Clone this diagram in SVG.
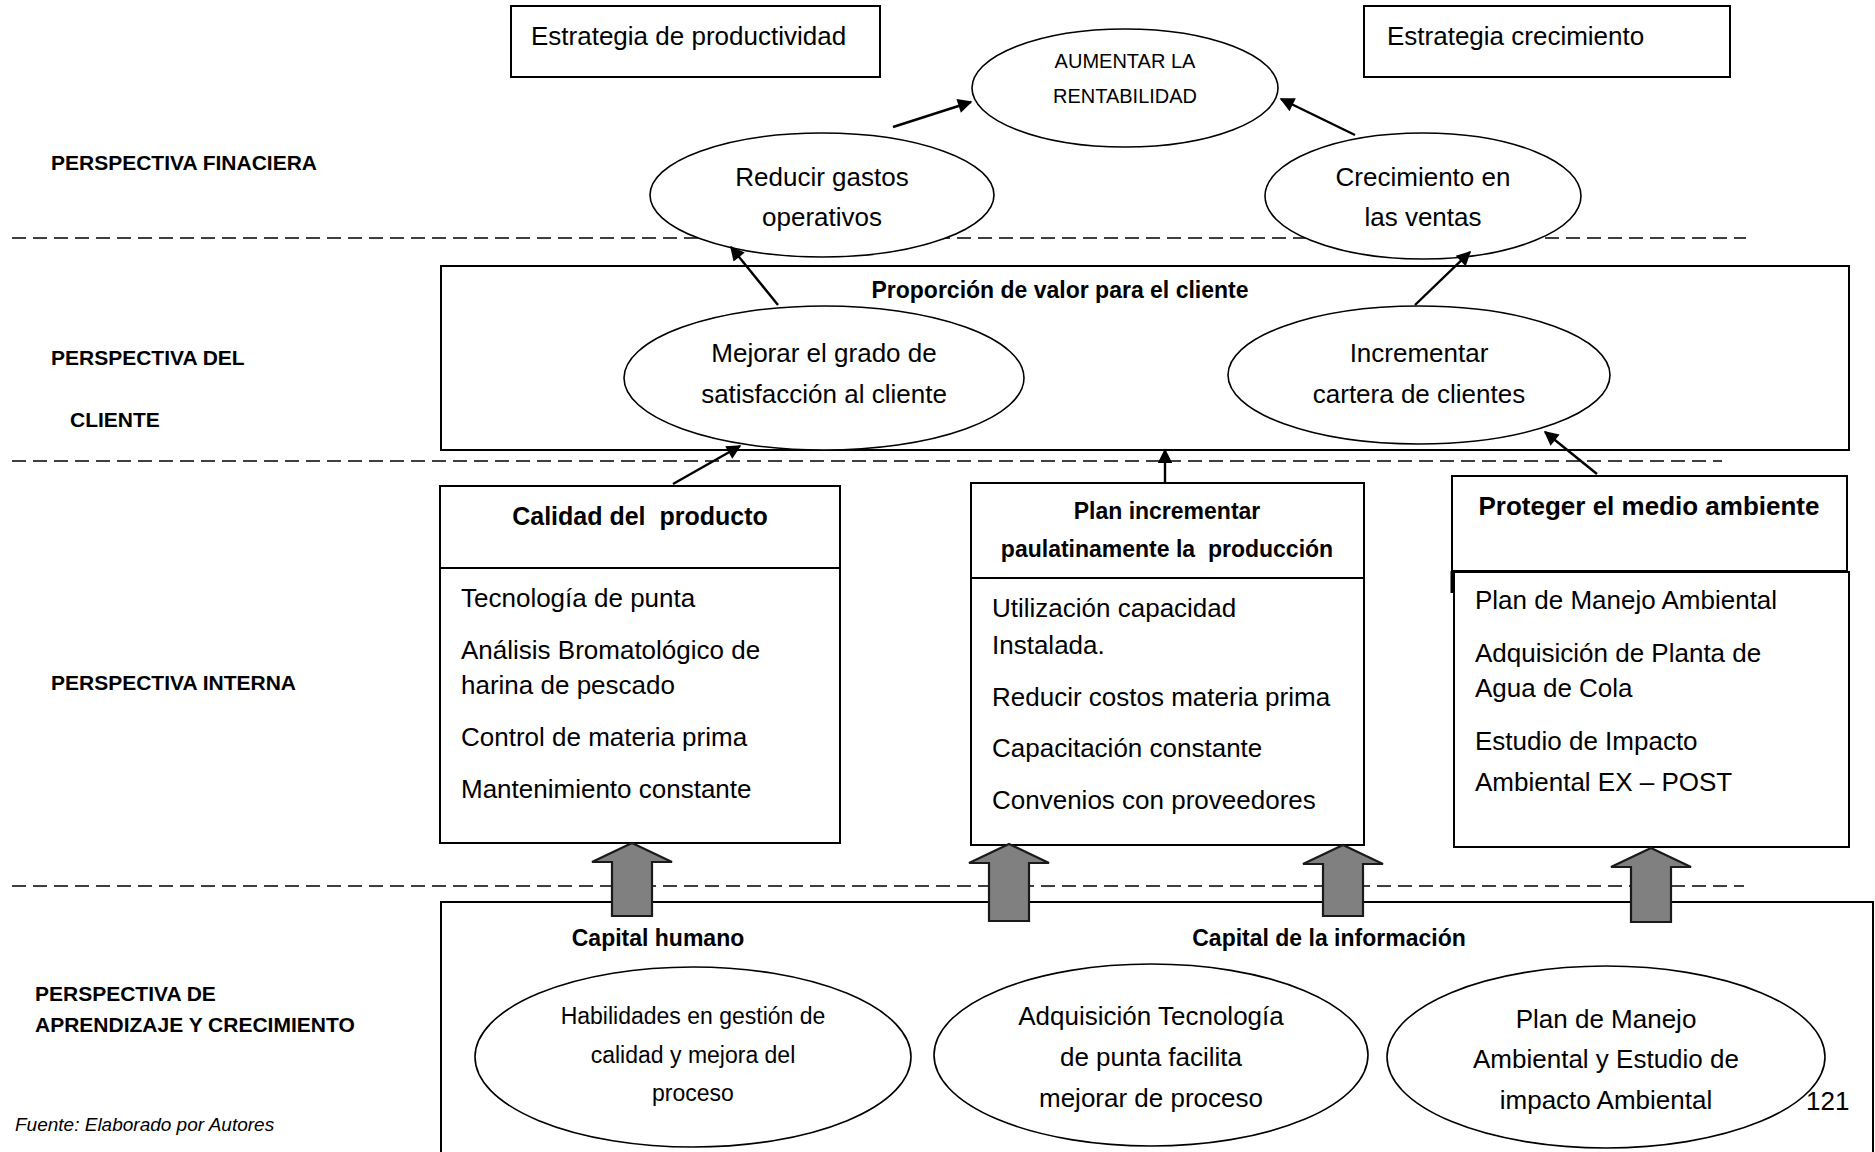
<svg xmlns="http://www.w3.org/2000/svg" width="1875" height="1152" viewBox="0 0 1875 1152">
<style>
text{font-family:"Liberation Sans",Arial,sans-serif;fill:#000}
.t{font-size:26px}
.s{font-size:23px}
.a{font-size:20px}
.b{font-weight:bold}
.lab{font-size:21px;font-weight:bold}
.c{text-anchor:middle}
.box{fill:#fff;stroke:#000;stroke-width:2}
.ell{fill:#fff;stroke:#000;stroke-width:1.6}
.dash{stroke:#000;stroke-width:1.6;stroke-dasharray:14 7;fill:none}
.ln{stroke:#000;stroke-width:2.4;fill:none}
.blk{fill:#808080;stroke:#1a1a1a;stroke-width:2.2;stroke-linejoin:miter}
</style>
<defs>
<marker id="ah" viewBox="0 0 10 10" refX="9" refY="5" markerWidth="7" markerHeight="6" markerUnits="strokeWidth" orient="auto">
<path d="M0,0 L10,5 L0,10 Z" fill="#000"/>
</marker>
</defs>

<g id="dashed-lines">
<line class="dash" x1="12" y1="238" x2="1746" y2="238"/>
<line class="dash" x1="12" y1="461" x2="1722" y2="461"/>
<line class="dash" x1="12" y1="886" x2="1744" y2="886"/>
</g>

<g id="labels">
<text class="lab" x="51" y="170">PERSPECTIVA FINACIERA</text>
<text class="lab" x="51" y="365">PERSPECTIVA DEL</text>
<text class="lab" x="70" y="427">CLIENTE</text>
<text class="lab" x="51" y="690">PERSPECTIVA INTERNA</text>
<text class="lab" x="35" y="1001">PERSPECTIVA DE</text>
<text class="lab" x="35" y="1032">APRENDIZAJE Y CRECIMIENTO</text>
<text x="15" y="1131" style="font-size:19px;font-style:italic">Fuente: Elaborado por Autores</text>
<text class="t" x="1806" y="1110">121</text>
</g>

<g id="estrategia-productividad">
<rect class="box" x="511" y="6" width="369" height="71"/>
<text class="t" x="531" y="45">Estrategia de productividad</text>
</g>
<g id="estrategia-crecimiento">
<rect class="box" x="1364" y="6" width="366" height="71"/>
<text class="t" x="1387" y="45">Estrategia crecimiento</text>
</g>

<g id="aumentar-rentabilidad">
<ellipse class="ell" cx="1125" cy="88" rx="153" ry="59"/>
<text class="a c" x="1125" y="68">AUMENTAR LA</text>
<text class="a c" x="1125" y="103">RENTABILIDAD</text>
</g>

<g id="reducir-gastos">
<ellipse class="ell" cx="822" cy="195" rx="172" ry="62"/>
<text class="t c" x="822" y="186">Reducir gastos</text>
<text class="t c" x="822" y="226">operativos</text>
</g>

<g id="crecimiento-ventas">
<ellipse class="ell" cx="1423" cy="196" rx="158" ry="63"/>
<text class="t c" x="1423" y="186">Crecimiento en</text>
<text class="t c" x="1423" y="226">las ventas</text>
</g>

<g id="proporcion-valor">
<rect class="box" x="441" y="266" width="1408" height="184"/>
<text class="s b c" x="1060" y="298">Proporción de valor para el cliente</text>
</g>

<g id="mejorar-satisfaccion">
<ellipse class="ell" cx="824" cy="378" rx="200" ry="72"/>
<text class="t c" x="824" y="362">Mejorar el grado de</text>
<text class="t c" x="824" y="403">satisfacción al cliente</text>
</g>

<g id="incrementar-cartera">
<ellipse class="ell" cx="1419" cy="375" rx="191" ry="69"/>
<text class="t c" x="1419" y="362">Incrementar</text>
<text class="t c" x="1419" y="403">cartera de clientes</text>
</g>

<g id="calidad-producto">
<rect class="box" x="440" y="486" width="400" height="357"/>
<line class="ln" x1="440" y1="568" x2="840" y2="568" style="stroke-width:2"/>
<text class="b c" x="640" y="525" style="font-size:25px" xml:space="preserve">Calidad del  producto</text>
<text class="t" x="461" y="607">Tecnología de punta</text>
<text class="t" x="461" y="659">Análisis Bromatológico de</text>
<text class="t" x="461" y="694">harina de pescado</text>
<text class="t" x="461" y="746">Control de materia prima</text>
<text class="t" x="461" y="798">Mantenimiento constante</text>
</g>

<g id="plan-produccion">
<rect class="box" x="971" y="483" width="393" height="362"/>
<line class="ln" x1="971" y1="578" x2="1364" y2="578" style="stroke-width:2"/>
<text class="s b c" x="1167" y="519">Plan incrementar</text>
<text class="s b c" x="1167" y="557" xml:space="preserve">paulatinamente la  producción</text>
<text class="t" x="992" y="617">Utilización capacidad</text>
<text class="t" x="992" y="654">Instalada.</text>
<text class="t" x="992" y="706">Reducir costos materia prima</text>
<text class="t" x="992" y="757">Capacitación constante</text>
<text class="t" x="992" y="809">Convenios con proveedores</text>
</g>

<g id="medio-ambiente">
<rect class="box" x="1452" y="476" width="395" height="95"/>
<line class="ln" x1="1452" y1="571" x2="1452" y2="593" style="stroke-width:3"/>
<rect class="box" x="1454" y="572" width="395" height="275"/>
<text class="b c" x="1649" y="515" style="font-size:26px">Proteger el medio ambiente</text>
<text class="t" x="1475" y="609">Plan de Manejo Ambiental</text>
<text class="t" x="1475" y="662">Adquisición de Planta de</text>
<text class="t" x="1475" y="697">Agua de Cola</text>
<text class="t" x="1475" y="750">Estudio de Impacto</text>
<text class="t" x="1475" y="791">Ambiental EX – POST</text>
</g>

<g id="aprendizaje-crecimiento">
<path class="ln" d="M441,1152 V902 H1873 V1152" style="stroke-width:2"/>
<text class="s b c" x="658" y="946">Capital humano</text>
<text class="s b c" x="1329" y="946">Capital de la información</text>
</g>

<g id="habilidades">
<ellipse class="ell" cx="693" cy="1057" rx="218" ry="90"/>
<text class="s c" x="693" y="1024">Habilidades en gestión de</text>
<text class="s c" x="693" y="1063">calidad y mejora del</text>
<text class="s c" x="693" y="1101">proceso</text>
</g>

<g id="adquisicion-tecnologia">
<ellipse class="ell" cx="1151" cy="1055" rx="217" ry="91"/>
<text class="t c" x="1151" y="1025">Adquisición Tecnología</text>
<text class="t c" x="1151" y="1066">de punta facilita</text>
<text class="t c" x="1151" y="1107">mejorar de proceso</text>
</g>

<g id="plan-manejo">
<ellipse class="ell" cx="1606" cy="1057" rx="219" ry="91"/>
<text class="t c" x="1606" y="1028">Plan de Manejo</text>
<text class="t c" x="1606" y="1068">Ambiental y Estudio de</text>
<text class="t c" x="1606" y="1109">impacto Ambiental</text>
</g>

<g id="connectors">
<line class="ln" x1="893" y1="127" x2="971" y2="102" marker-end="url(#ah)"/>
<line class="ln" x1="1355" y1="135" x2="1281" y2="99" marker-end="url(#ah)"/>
<line class="ln" x1="778" y1="305" x2="731" y2="247" marker-end="url(#ah)"/>
<line class="ln" x1="1415" y1="305" x2="1470" y2="252" marker-end="url(#ah)"/>
<line class="ln" x1="673" y1="484" x2="740" y2="446" marker-end="url(#ah)"/>
<line class="ln" x1="1165" y1="483" x2="1165" y2="450" marker-end="url(#ah)"/>
<line class="ln" x1="1597" y1="474" x2="1545" y2="432" marker-end="url(#ah)"/>
<polygon class="blk" points="632,843 672,862 652,862 652,916 612,916 612,862 592,862"/>
<polygon class="blk" points="1009,844 1049,863 1029,863 1029,921 989,921 989,863 969,863"/>
<polygon class="blk" points="1343,845 1383,864 1363,864 1363,916 1323,916 1323,864 1303,864"/>
<polygon class="blk" points="1651,848 1691,867 1671,867 1671,922 1631,922 1631,867 1611,867"/>
</g>
</svg>
